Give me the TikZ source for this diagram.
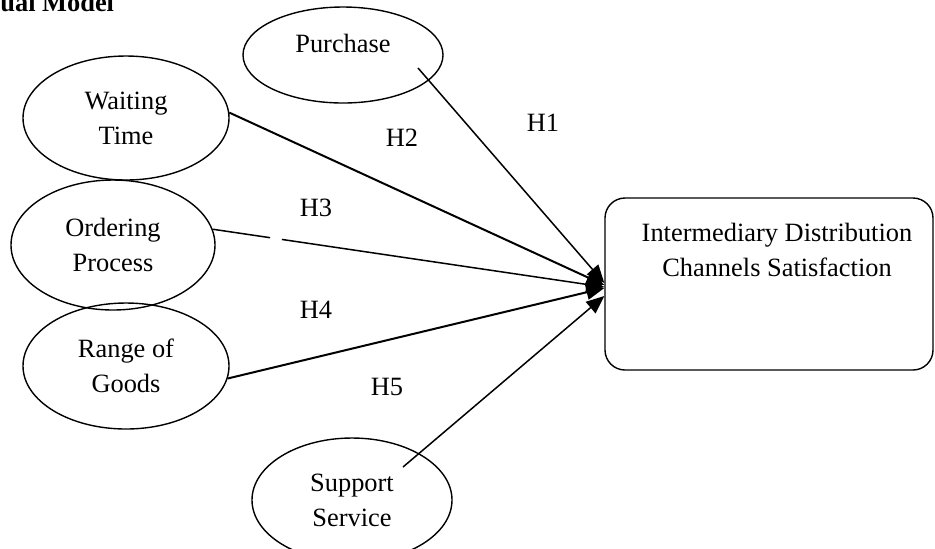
\documentclass[tikz,border=0pt]{standalone}
\usepackage{fontspec}
\setmainfont{Liberation Serif}
\usetikzlibrary{arrows.meta}
\usetikzlibrary{shapes.geometric}
\usetikzlibrary{positioning}

\begin{document}
\begin{tikzpicture}[x=0.5pt,y=-0.5pt]
		\tikzstyle{factor} = [ellipse, draw, line width=0.7pt, inner sep=0pt,
		align=center, font=\fontsize{13.2}{17.5}\selectfont]
		\tikzstyle{outcome} = [rectangle, draw, line width=0.7pt, rounded corners=10pt,
		minimum width=164pt, minimum height=86pt]
		\tikzstyle{hyp} = [inner sep=0pt, font=\fontsize{13.2}{17.5}\selectfont]
		\tikzstyle{link} = [draw, line width=0.75pt, -{Triangle[length=9pt, width=7.5pt]}]
		\useasboundingbox (0,0) rectangle (935,548);

		% Title (cut at the page edge)
		\node [anchor=base west, inner sep=0pt, font=\bfseries\fontsize{13.2}{17.5}\selectfont] (title) at (0,11) {ual Model};

		% Factors
		\node [factor, minimum width=100pt, minimum height=48pt, text depth=12pt] (purchase) at (343,55) {Purchase};
		\node [factor, minimum width=103pt, minimum height=62pt] (waiting) at (126,118) {Waiting\\Time};
		\node [factor, minimum width=102pt, minimum height=65pt] (ordering) at (113,245) {Ordering\\Process};
		\node [factor, minimum width=103pt, minimum height=63pt] (range) at (126,366) {Range of\\Goods};
		\node [factor, minimum width=100pt, minimum height=62pt] (support) at (352,500) {Support\\Service};

		% Satisfaction
		\node [outcome] (ids) at (769,284) {};
		\node [align=center, inner sep=0pt, font=\fontsize{13.2}{17.5}\selectfont] (idstext) at (777,249.5) {Intermediary Distribution\\Channels Satisfaction};

		% Hypotheses
		\node [hyp] (h1) at (543,123) {H1};
		\node [hyp] (h2) at (402,138) {H2};
		\node [hyp] (h3) at (316,208) {H3};
		\node [hyp] (h4) at (316,310) {H4};
		\node [hyp] (h5) at (387,387) {H5};

		% arrows
		\draw [link] ([xshift=37.5pt,yshift=-6.5pt]purchase.center) -- ([yshift=0.5pt]ids.west);
		\draw [link, line width=1pt] (waiting.3) -- ([yshift=-0.5pt]ids.west);
		\draw [link, dash pattern=on 29pt off 6pt on 400pt] (ordering.9) -- ([yshift=-1.5pt]ids.west);
		\draw [link, line width=1pt] (range.-7) -- ([yshift=-2pt]ids.west);
		\draw [link] ([xshift=25.5pt,yshift=16.5pt]support.center) -- ([yshift=-6pt]ids.west);

	\end{tikzpicture}
\end{document}
